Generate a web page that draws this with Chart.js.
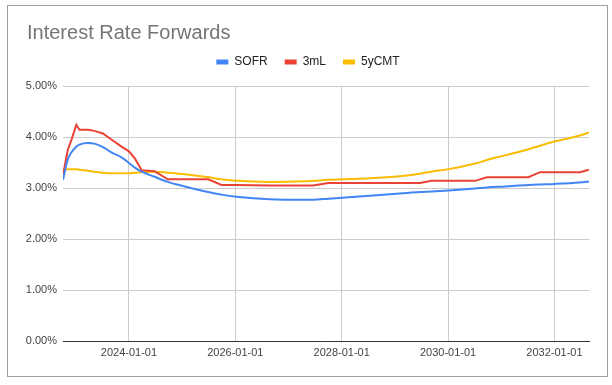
<!DOCTYPE html>
<html>
<head>
<meta charset="utf-8">
<title>Interest Rate Forwards</title>
<script src="https://cdn.jsdelivr.net/npm/chart.js@4/dist/chart.umd.min.js"></script>
<style>
    html, body { margin: 0; padding: 0; background: #fff; }
    #wrap { width: 612px; height: 385px; position: relative; }
</style>
</head>
<body>
<div id="wrap"><canvas id="rateChart" width="612" height="385"></canvas></div>
<script>
// dates as decimal years, values in percent
var dates = [2022.76, 2022.85, 2022.92, 2023.01, 2023.07, 2023.23, 2023.35, 2023.51, 2023.67, 2023.86,
    2024.00, 2024.11, 2024.24, 2024.48, 2024.73, 2025.05, 2025.49, 2025.74, 2026.02, 2026.65,
    2027.28, 2027.46, 2027.75, 2028.00, 2028.53, 2029.09, 2029.47, 2029.69, 2030.01, 2030.51,
    2030.73, 2031.07, 2031.51, 2031.73, 2032.00, 2032.48, 2032.65];
var sofr = [3.16, 3.56, 3.70, 3.81, 3.85, 3.88, 3.87, 3.80, 3.70, 3.60,
    3.49, 3.40, 3.32, 3.22, 3.12, 3.03, 2.92, 2.87, 2.83, 2.78,
    2.77, 2.77, 2.79, 2.81, 2.85, 2.89, 2.92, 2.93, 2.95, 2.99,
    3.01, 3.03, 3.06, 3.07, 3.08, 3.11, 3.13];
var libor3m = [3.25, 3.75, 3.95, 4.24, 4.14, 4.14, 4.12, 4.07, 3.95, 3.81,
    3.72, 3.58, 3.35, 3.33, 3.17, 3.17, 3.17, 3.06, 3.06, 3.05,
    3.05, 3.05, 3.10, 3.10, 3.10, 3.10, 3.10, 3.14, 3.14, 3.14,
    3.21, 3.21, 3.21, 3.31, 3.31, 3.31, 3.36];
var cmt5y = [3.35, 3.37, 3.37, 3.37, 3.36, 3.34, 3.32, 3.30, 3.29, 3.29,
    3.29, 3.30, 3.31, 3.32, 3.30, 3.27, 3.21, 3.17, 3.14, 3.12,
    3.13, 3.14, 3.16, 3.17, 3.19, 3.23, 3.28, 3.32, 3.37, 3.48,
    3.55, 3.64, 3.76, 3.83, 3.91, 4.03, 4.09];
var xTicks = [2024, 2026, 2028, 2030, 2032];
var yTicks = [0, 1, 2, 3, 4, 5];

(function () {
    'use strict';

    var fontFamily = '"Liberation Sans", Arial, sans-serif';

    function series(label, values, color, smooth) {
        return {
            label: label,
            data: dates.map(function (d, i) { return { x: d, y: values[i] }; }),
            borderColor: color,
            backgroundColor: color,
            borderWidth: 2,
            pointRadius: 0,
            tension: 0,
            cubicInterpolationMode: smooth ? 'monotone' : 'default'
        };
    }

    var frame = {
        id: 'frame',
        afterLayout: function (chart) {
            // let the y labels run left of the title indent without being clipped
            chart.scales.y.left = 0;
        },
        beforeDraw: function (chart) {
            var ctx = chart.ctx;
            ctx.save();
            ctx.fillStyle = '#fff';
            ctx.fillRect(0, 0, chart.width, chart.height);
            ctx.restore();
        },
        afterDraw: function (chart) {
            var ctx = chart.ctx;
            ctx.save();
            ctx.strokeStyle = '#9e9e9e';
            ctx.lineWidth = 1;
            ctx.strokeRect(7.5, 5.5, 600, 371);
            ctx.restore();
        }
    };

    new Chart(document.getElementById('rateChart'), {
        type: 'line',
        data: {
            datasets: [
                series('SOFR', sofr, '#4285f4', true),
                series('3mL', libor3m, '#ea4335', false),
                series('5yCMT', cmt5y, '#fbbc04', true)
            ]
        },
        options: {
            responsive: false,
            animation: false,
            layout: { padding: { left: 27, right: 23, top: 0, bottom: 0 } },
            plugins: {
                title: {
                    display: true,
                    text: 'Interest Rate Forwards',
                    align: 'start',
                    color: '#757575',
                    font: { family: fontFamily, size: 20, weight: 'normal' },
                    padding: { top: 21, bottom: -6 }
                },
                legend: {
                    position: 'top',
                    labels: {
                        boxWidth: 12,
                        boxHeight: 5,
                        padding: 17,
                        color: '#222',
                        font: { family: fontFamily, size: 12 },
                        generateLabels: function (chart) {
                            return Chart.defaults.plugins.legend.labels.generateLabels(chart).map(function (l) {
                                l.lineWidth = 0;
                                return l;
                            });
                        }
                    }
                },
                tooltip: { enabled: false }
            },
            scales: {
                x: {
                    type: 'linear',
                    min: dates[0],
                    max: dates[dates.length - 1],
                    afterBuildTicks: function (scale) {
                        scale.ticks = xTicks.map(function (v) { return { value: v }; });
                    },
                    afterFit: function (scale) { scale.height = 44; },
                    grid: { color: '#cccccc', drawTicks: false },
                    border: { display: true, color: '#333', width: 1 },
                    ticks: {
                        padding: 5,
                        color: '#444',
                        maxRotation: 0,
                        font: { family: fontFamily, size: 11 },
                        callback: function (v) { return v + '-01-01'; }
                    }
                },
                xTop: {
                    type: 'linear',
                    position: 'top',
                    grid: { display: false },
                    border: { display: false },
                    ticks: { display: false },
                    afterFit: function (scale) { scale.height = 8; }
                },
                y: {
                    min: 0,
                    max: 5,
                    afterBuildTicks: function (scale) {
                        scale.ticks = yTicks.map(function (v) { return { value: v }; });
                    },
                    afterFit: function (scale) { scale.width = 36; },
                    grid: { color: '#cccccc', drawTicks: false },
                    border: { display: false },
                    ticks: {
                        padding: 6,
                        color: '#444',
                        font: { family: fontFamily, size: 11 },
                        callback: function (v) { return v.toFixed(2) + '%'; }
                    }
                }
            }
        },
        plugins: [frame]
    });
})();
</script>
</body>
</html>
